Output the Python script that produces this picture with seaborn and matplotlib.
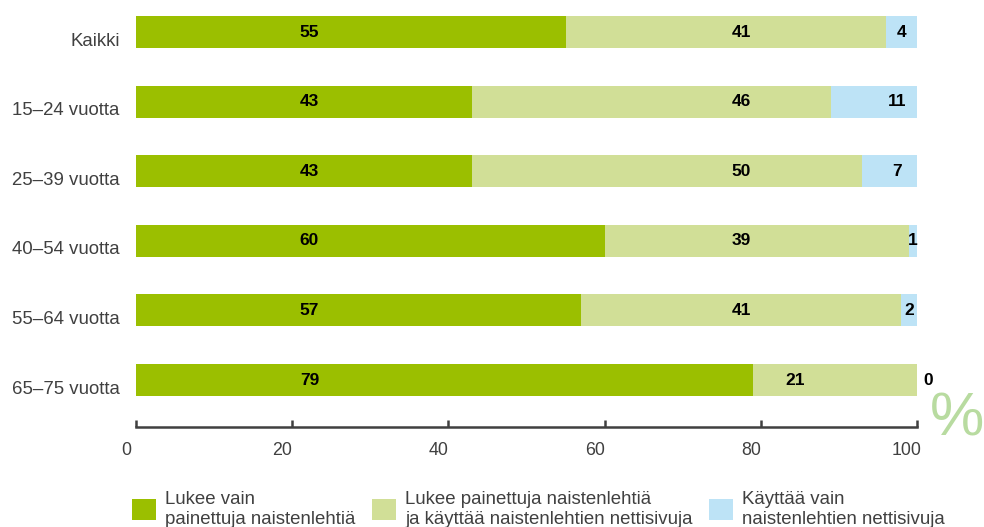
import matplotlib
matplotlib.use("Agg")
import matplotlib.pyplot as plt
import matplotlib.transforms as mtransforms
from matplotlib.patches import Patch
import numpy as np
import pandas as pd
import seaborn as sns

# Share of readers by age group (%)
categories = ["Kaikki", "15\u201324 vuotta", "25\u201339 vuotta",
              "40\u201354 vuotta", "55\u201364 vuotta", "65\u201375 vuotta"]
print_only = [55, 43, 43, 60, 57, 79]
print_and_web = [41, 46, 50, 39, 41, 21]
web_only = [4, 11, 7, 1, 2, 0]

series_names = ["Lukee vain\npainettuja naistenlehti\u00e4",
                "Lukee painettuja naistenlehti\u00e4\nja k\u00e4ytt\u00e4\u00e4 naistenlehtien nettisivuja",
                "K\u00e4ytt\u00e4\u00e4 vain\nnaistenlehtien nettisivuja"]
x_ticks = [0, 20, 40, 60, 80, 100]

C_DARK = "#9bbf00"
C_LIGHT = "#d1df97"
C_BLUE = "#bde3f6"
C_TEXT = "#404040"

sns.set_theme(style="white")
plt.rcParams["font.family"] = ["Liberation Sans", "DejaVu Sans"]

df = pd.DataFrame({
    "category": categories,
    "a": print_only,
    "b": print_and_web,
    "c": web_only,
})
df["cum1"] = df["a"]
df["cum2"] = df["a"] + df["b"]
df["cum3"] = df["a"] + df["b"] + df["c"]

fig = plt.figure(figsize=(9.84, 5.27), dpi=100)
ax = fig.add_axes([136 / 984, 1 - 427 / 527, 781 / 984, 427 / 527])

bar_w = 0.46
# stacked bars drawn back to front as cumulative totals
sns.barplot(data=df, x="cum3", y="category", orient="h", color=C_BLUE,
            width=bar_w, saturation=1, ax=ax)
sns.barplot(data=df, x="cum2", y="category", orient="h", color=C_LIGHT,
            width=bar_w, saturation=1, ax=ax)
sns.barplot(data=df, x="cum1", y="category", orient="h", color=C_DARK,
            width=bar_w, saturation=1, ax=ax)
for p in ax.patches:
    p.set_edgecolor("none")
    p.set_linewidth(0)

ax.set_xlim(0, 100)
ax.set_ylim(5.675, -0.46)
ax.set_xlabel("")
ax.set_ylabel("")

# value labels
lab_kw = dict(ha="center", va="center", fontsize=12.5, fontweight="bold", color="black")
for i, (a, b, c) in enumerate(zip(print_only, print_and_web, web_only)):
    ax.text(22.2, i, f"{a}", **lab_kw)
    ax.text(max(77.5, a + 5.4), i, f"{b}", **lab_kw)
    total = a + b + c
    if c > 0:
        ax.text(total - min(c / 2, 2.5), i, f"{c}", **lab_kw)
    else:
        ax.text(total + 1.4, i, f"{c}", **lab_kw)

# axes styling
for s in ["top", "right", "left"]:
    ax.spines[s].set_visible(False)
ax.spines["bottom"].set_color(C_TEXT)
ax.spines["bottom"].set_linewidth(1.8)
ax.set_xticks(x_ticks)
ax.set_xticklabels([str(t) for t in x_ticks])
ax.tick_params(axis="x", direction="in", length=5, width=1.8, color=C_TEXT,
               pad=11, labelsize=12.8, labelcolor=C_TEXT, bottom=True)
ax.tick_params(axis="y", length=0, pad=11.7, labelsize=13.4, labelcolor=C_TEXT)
ax.grid(False)

shift_x = mtransforms.ScaledTranslation(-10 / 100, 0, fig.dpi_scale_trans)
for lbl in ax.get_xticklabels():
    lbl.set_transform(lbl.get_transform() + shift_x)
shift_y = mtransforms.ScaledTranslation(0, -7 / 100, fig.dpi_scale_trans)
for lbl in ax.get_yticklabels():
    lbl.set_transform(lbl.get_transform() + shift_y)

# percent sign
fig.text(957 / 984, 1 - 420 / 527, "%", fontsize=44, color="#b8dba0",
         ha="center", va="center")

# legend
handles = [Patch(facecolor=col, edgecolor="none") for col in (C_DARK, C_LIGHT, C_BLUE)]
fig.legend(handles, series_names, ncol=3, loc="upper left",
           bbox_to_anchor=(132 / 984, 1 - 491 / 527), frameon=False,
           fontsize=13.4, labelcolor=C_TEXT, borderpad=0, borderaxespad=0,
           handlelength=1.29, handleheight=1.29, handletextpad=0.48,
           columnspacing=0.9)

fig.savefig("out.png", dpi=100)
